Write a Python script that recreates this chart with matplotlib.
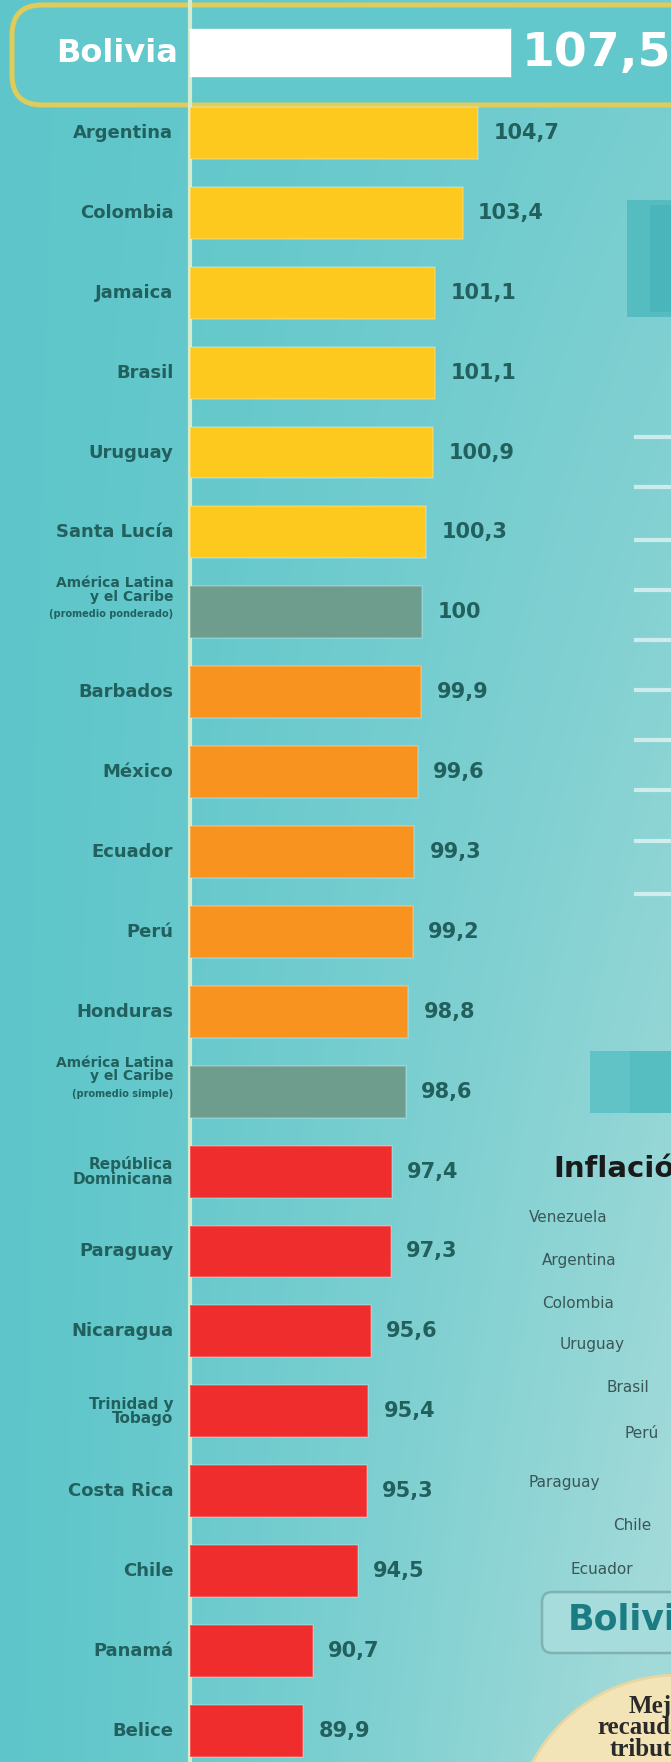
import matplotlib.pyplot as plt
import matplotlib.patches as mpatches
from matplotlib.colors import to_rgb
import numpy as np

countries = ['Bolivia', 'Argentina', 'Colombia', 'Jamaica', 'Brasil', 'Uruguay', 'Santa Lucía',
             'América Latina\ny el Caribe\n(promedio ponderado)', 'Barbados', 'México', 'Ecuador', 'Perú',
             'Honduras', 'América Latina\ny el Caribe\n(promedio simple)', 'República\nDominicana',
             'Paraguay', 'Nicaragua', 'Trinidad y\nTobago', 'Costa Rica', 'Chile', 'Panamá', 'Belice']
values = [107.5, 104.7, 103.4, 101.1, 101.1, 100.9, 100.3, 100.0, 99.9, 99.6, 99.3, 99.2,
          98.8, 98.6, 97.4, 97.3, 95.6, 95.4, 95.3, 94.5, 90.7, 89.9]
value_labels = ['107,5', '104,7', '103,4', '101,1', '101,1', '100,9', '100,3', '100', '99,9', '99,6',
                '99,3', '99,2', '98,8', '98,6', '97,4', '97,3', '95,6', '95,4', '95,3', '94,5', '90,7', '89,9']
groups = ['bolivia'] + ['alto'] * 6 + ['promedio'] + ['medio'] * 5 + ['promedio'] + ['bajo'] * 8

# right-hand panel (only partly visible in the crop)
infl_countries = ['Venezuela', 'Argentina', 'Colombia', 'Uruguay', 'Brasil', 'Perú', 'Paraguay', 'Chile', 'Ecuador']

group_colors = {'bolivia': '#ffffff', 'alto': '#fdc91f', 'promedio': '#6e9c8d',
                'medio': '#f7931e', 'bajo': '#ee2d2c'}
text_color = '#22605e'

W, H = 671, 1762
fig = plt.figure(figsize=(W / 100, H / 100), dpi=100)

# background gradient
bg = fig.add_axes([0, 0, 1, 1])
xx, yy = np.meshgrid(np.linspace(0, 1, 300), np.linspace(0, 1, 600))
t = np.clip(xx ** 1.3 * (0.35 + 0.75 * yy), 0, 1)
c0 = np.array(to_rgb('#5ec6ca'))
c1 = np.array(to_rgb('#a2dad9'))
img = c0[None, None, :] * (1 - t[..., None]) + c1[None, None, :] * t[..., None]
bg.imshow(img, extent=[0, 1, 0, 1], aspect='auto', origin='upper')
bg.axis('off')

# chart axes
ax = fig.add_axes([0, 0, 1, 1])
ax.set_facecolor('none')
base = 80.3
px_per_unit = 11.8
ax.set_xlim(base - 190 / px_per_unit, base + (W - 190) / px_per_unit)
row_px = 79.9
ax.set_ylim((H - 53) / row_px, -53 / row_px)
ax.axis('off')

y = np.arange(len(countries))
vals = np.array(values)
colors = [group_colors[g] for g in groups]

ax.axvline(base, color='#d3ecd0', lw=3, zorder=1)

heights = [0.61] + [0.65] * (len(countries) - 1)
ax.barh(y, vals - base, left=base, height=heights, color=colors,
        edgecolor=(1, 1, 1, 0.25), linewidth=1.2, zorder=3)

# Bolivia highlight box
box = mpatches.FancyBboxPatch((0.12, (H - 105) / 100), 7.0, 1.0,
                              boxstyle='round,pad=0,rounding_size=0.3',
                              transform=fig.dpi_scale_trans, facecolor='#63c8cb',
                              edgecolor='#dfcc5a', linewidth=3.6, zorder=0.5)
fig.add_artist(box)
ax.set_zorder(2)

for i, (name, v, lab) in enumerate(zip(countries, values, value_labels)):
    if groups[i] == 'bolivia':
        ax.annotate(name, xy=(base, i), xytext=(-9, 0), textcoords='offset points',
                    ha='right', va='center', fontsize=23, fontweight='bold', color='white')
        ax.annotate(lab, xy=(v, i), xytext=(8, 0), textcoords='offset points',
                    ha='left', va='center', fontsize=34, fontweight='bold', color='white')
        continue
    if '(' in name:
        parts = name.split('\n')
        ax.annotate('\n'.join(parts[:-1]), xy=(base, i), xytext=(-12, 16), textcoords='offset points',
                    ha='right', va='center', fontsize=10, fontweight='bold', color=text_color,
                    linespacing=0.95)
        ax.annotate(parts[-1], xy=(base, i), xytext=(-12, -1.5), textcoords='offset points',
                    ha='right', va='center', fontsize=7, fontweight='bold', color=text_color)
    elif '\n' in name:
        ax.annotate(name, xy=(base, i), xytext=(-12, 0), textcoords='offset points',
                    ha='right', va='center', fontsize=11, fontweight='bold', color=text_color,
                    linespacing=0.95)
    else:
        ax.annotate(name, xy=(base, i), xytext=(-12, 0), textcoords='offset points',
                    ha='right', va='center', fontsize=13, fontweight='bold', color=text_color)
    ax.annotate(lab, xy=(v, i), xytext=(11, 0), textcoords='offset points',
                ha='left', va='center', fontsize=15, fontweight='bold', color=text_color)


# partial right panel decorations
def px_rect(x0, y0, x1, y1, **kw):
    r = mpatches.Rectangle((x0 / 100, (H - y1) / 100), (x1 - x0) / 100, (y1 - y0) / 100,
                           transform=fig.dpi_scale_trans, **kw)
    fig.add_artist(r)
    return r


px_rect(627, 200, 680, 317, facecolor='#55bcc0', edgecolor='none', zorder=1)
px_rect(650, 205, 680, 312, facecolor='#4ab5ba', edgecolor='none', zorder=1)
for yy_ in [437, 487, 540, 590, 640, 690, 740, 790, 841, 894]:
    fig.add_artist(plt.Line2D([636 / W, 1.0], [1 - yy_ / H] * 2, transform=fig.transFigure,
                              color='white', alpha=0.6, lw=3))
px_rect(590, 1051, 680, 1113, facecolor='#62c3c6', edgecolor='none', zorder=1)
px_rect(630, 1051, 680, 1113, facecolor='#56bdc1', edgecolor='none', zorder=1)
fig.text(553 / W, 1 - 1169 / H, 'Inflación', fontsize=21, fontweight='bold', color='#1a1a1a',
         va='center', ha='left')
list_x = [529, 542, 542, 560, 607, 624, 529, 613, 570]
list_y = [1217, 1260, 1303, 1345, 1388, 1433, 1482, 1526, 1570]
for nm, lx, ly in zip(infl_countries, list_x, list_y):
    fig.text(lx / W, 1 - ly / H, nm, fontsize=11, color='#3a5656', va='center', ha='left')

bol_box = mpatches.FancyBboxPatch((5.42, (H - 1653) / 100), 2.0, 0.61,
                                  boxstyle='round,pad=0,rounding_size=0.1',
                                  transform=fig.dpi_scale_trans, facecolor='#a6dcdb',
                                  edgecolor='#7fb2b0', linewidth=1.8, zorder=1)
fig.add_artist(bol_box)
fig.text(568 / W, 1 - 1619 / H, 'Bolivia', fontsize=25, fontweight='bold', color='#1b7c83',
         va='center', ha='left')

circ = mpatches.Circle((6.78, (H - 1840) / 100), 1.65, transform=fig.dpi_scale_trans,
                       facecolor='#f3e4b8', edgecolor='#e8d6a0', linewidth=2, zorder=1)
fig.add_artist(circ)
fig.text(662 / W, 1 - 1728 / H, 'Mejor\nrecaudación\ntributaria', fontsize=18,
         fontweight='bold', family='Liberation Serif', color='#2a2a2a', va='center', ha='center',
         linespacing=0.9)

fig.savefig('out.png', dpi=100)
